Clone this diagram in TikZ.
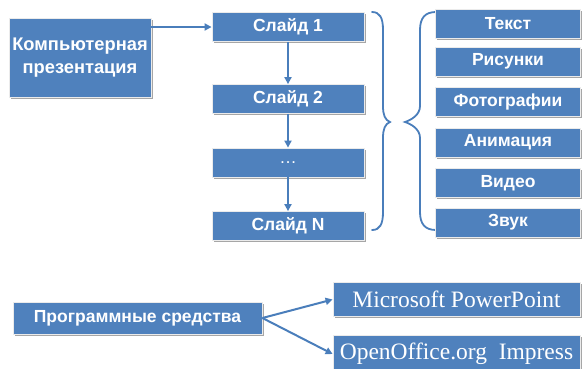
\documentclass[tikz,border=0pt]{standalone}
\usepackage{fontspec}
\setmainfont{Liberation Sans}
\newfontfamily\tnr{Liberation Serif}
\usetikzlibrary{arrows.meta,shadows}
\definecolor{obox}{HTML}{4F81BD}
\definecolor{oline}{HTML}{4A7EBB}
\tikzset{
  bx/.style={fill=obox, draw=white!92!black, line width=0.8pt, text=white,
    font=\bfseries\fontsize{17.5}{20}\selectfont, inner sep=0pt, align=center,
    drop shadow={shadow xshift=1.5pt, shadow yshift=-1.8pt, opacity=0.35, fill=black}},
  serifbx/.style={bx, font=\tnr\fontsize{23.5}{26}\selectfont},
  conn/.style={draw=oline, line width=2pt, -{Triangle[length=7pt,width=7pt]}},
  brc/.style={draw=oline, line width=1.8pt, line cap=round}
}
\begin{document}
\begin{tikzpicture}[x=1pt,y=1pt]
\useasboundingbox (0,0) rectangle (582,-368);
% left box
\node[bx, minimum width=142pt, minimum height=79pt, font=\bfseries\fontsize{18.3}{23}\selectfont] (lb) at (80,-57.5) {Компьютерная\\презентация};
% slides
\node[bx, minimum width=152pt, minimum height=29pt] (s1) at (288,-27) {Слайд 1};
\node[bx, minimum width=152pt, minimum height=29pt] (s2) at (288,-99) {Слайд 2};
\node[bx, minimum width=152pt, minimum height=29pt, font=\fontsize{17.5}{20}\selectfont] (sd) at (288,-162.5) {…};
\node[bx, minimum width=152pt, minimum height=29pt] (sn) at (288,-226) {Слайд N};
\draw[conn] (lb.east |- s1.west) -- (s1.west);
\draw[conn] (s1.south) -- (s2.north);
\draw[conn] (s2.south) -- (sd.north);
\draw[conn] (sd.south) -- (sn.north);
% braces
\draw[brc] (372,-12) .. controls (380,-12) and (383,-18) .. (383,-30)
  -- (383,-106) .. controls (383,-115) and (385,-120) .. (390,-122)
  .. controls (385,-124) and (383,-129) .. (383,-138)
  -- (383,-212) .. controls (383,-224) and (380,-230) .. (372,-230);
\draw[brc] (436,-12) .. controls (425,-12) and (420,-18) .. (420,-30)
  -- (420,-106) .. controls (420,-115) and (411,-120) .. (405,-122)
  .. controls (411,-124) and (420,-129) .. (420,-138)
  -- (420,-212) .. controls (420,-224) and (425,-230) .. (436,-230);
% right column
\node[bx, minimum width=145pt, minimum height=29pt] (r1) at (508,-24) {Текст};
\node[bx, minimum width=145pt, minimum height=29pt] (r2) at (508,-61.5) {Рисунки};
\node[bx, minimum width=145pt, minimum height=29pt] (r3) at (508,-102) {Фотографии};
\node[bx, minimum width=145pt, minimum height=29pt] (r4) at (508,-142.5) {Анимация};
\node[bx, minimum width=145pt, minimum height=29pt] (r5) at (508,-183) {Видео};
\node[bx, minimum width=145pt, minimum height=29pt] (r6) at (508,-222.5) {Звук};
% bottom
\node[bx, minimum width=249pt, minimum height=32pt] (ps) at (137.5,-318) {Программные средства};
\node[serifbx, minimum width=247pt, minimum height=34pt] (mp) at (456.5,-299.5) {Microsoft PowerPoint};
\node[serifbx, minimum width=247pt, minimum height=38pt] (oo) at (456.5,-354) {OpenOffice.org\ \ Impress};
\draw[conn] (ps.east) -- (mp.west);
\draw[conn] (ps.east) -- (oo.west);
\end{tikzpicture}
\end{document}
